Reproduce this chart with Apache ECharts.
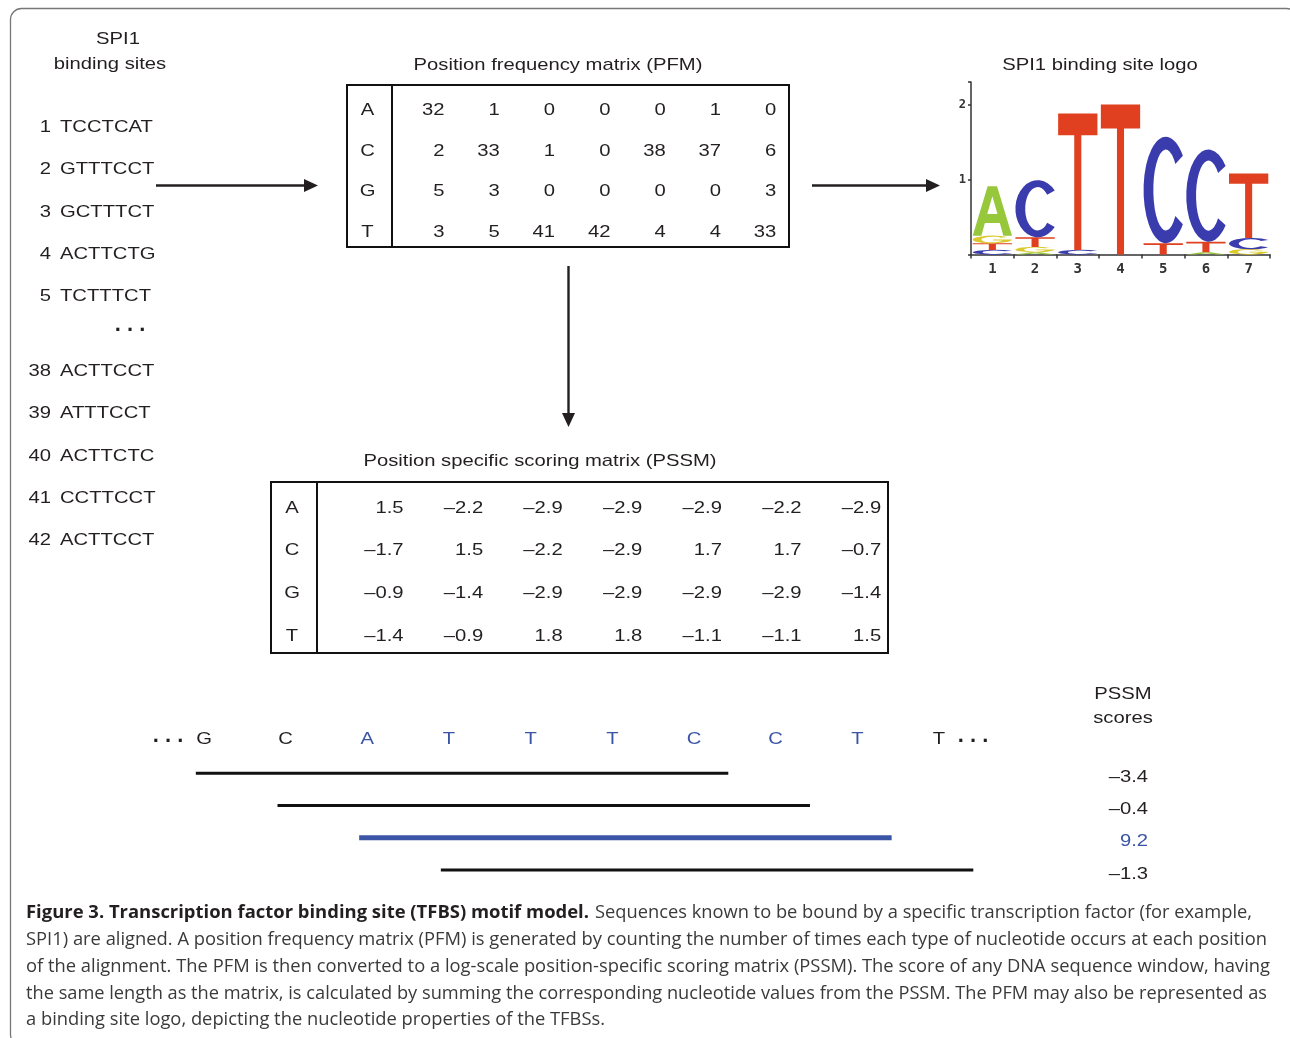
<!DOCTYPE html>
<html><head><meta charset="utf-8">
<script src="https://cdn.jsdelivr.net/npm/echarts@6/dist/echarts.min.js"></script>
<style>html,body{margin:0;padding:0;background:#fff}#main{width:1290px;height:1038px}</style>
</head><body><div id="main"></div>
<script>
// ---------------- data ----------------
const bases = ['A', 'C', 'G', 'T'];
const positions = ['1', '2', '3', '4', '5', '6', '7'];

const pfmA = [32, 1, 0, 0, 0, 1, 0];
const pfmC = [2, 33, 1, 0, 38, 37, 6];
const pfmG = [5, 3, 0, 0, 0, 0, 3];
const pfmT = [3, 5, 41, 42, 4, 4, 33];

const pssmA = [1.5, -2.2, -2.9, -2.9, -2.9, -2.2, -2.9];
const pssmC = [-1.7, 1.5, -2.2, -2.9, 1.7, 1.7, -0.7];
const pssmG = [-0.9, -1.4, -2.9, -2.9, -2.9, -2.9, -1.4];
const pssmT = [-1.4, -0.9, 1.8, 1.8, -1.1, -1.1, 1.5];

// sequence logo letter heights (bits)
const logoA = [0.66, 0.03, 0, 0, 0, 0.03, 0];
const logoC = [0.06, 0.76, 0.06, 0, 1.42, 1.23, 0.15];
const logoG = [0.10, 0.07, 0, 0, 0, 0, 0.07];
const logoT = [0.09, 0.13, 1.82, 2.0, 0.15, 0.14, 0.86];
const logoTicks = [0, 1, 2];

const siteIds = [1, 2, 3, 4, 5, 38, 39, 40, 41, 42];
const siteSeqs = ['TCCTCAT', 'GTTTCCT', 'GCTTTCT', 'ACTTCTG', 'TCTTTCT',
                  'ACTTCCT', 'ATTTCCT', 'ACTTCTC', 'CCTTCCT', 'ACTTCCT'];

const sequence = ['G', 'C', 'A', 'T', 'T', 'T', 'C', 'C', 'T', 'T'];
const windowStarts = [0, 1, 2, 3];
const windowScores = [-3.4, -0.4, 9.2, -1.3];

const captionBold = 'Figure 3. Transcription factor binding site (TFBS) motif model.';
const captionLines = [
  'Sequences known to be bound by a specific transcription factor (for example,',
  'SPI1) are aligned. A position frequency matrix (PFM) is generated by counting the number of times each type of nucleotide occurs at each position',
  'of the alignment. The PFM is then converted to a log-scale position-specific scoring matrix (PSSM). The score of any DNA sequence window, having',
  'the same length as the matrix, is calculated by summing the corresponding nucleotide values from the PSSM. The PFM may also be represented as',
  'a binding site logo, depicting the nucleotide properties of the TFBSs.'
];

// ---------------- styles ----------------
const INK = '#231f20';
const BLUE = '#3b55a6';
const FONT = '17px "Liberation Sans", Arial, sans-serif';
const TS = 1.19; // horizontal stretch of the figure's Helvetica text
const DY = 1.5;  // small downward nudge of the figure text
const CAP_FONT = '18px "Open Sans"';
const CAP_BFONT = 'bold 18px "Open Sans"';
const LETTER_COLOR = { A: '#97c83c', C: '#3a3cae', G: '#d9c92c', T: '#e0401f' };
const LETTER_PATH = {
  A: 'M0 100 L38 0 L62 0 L100 100 L78 100 L69 74 L31 74 L22 100 Z M37 56 L63 56 L50 20 Z',
  C: 'M88.3 17.9 A50 50 0 1 0 88.3 82.1 L71.4 74.4 A28 38 0 1 1 71.4 25.6 Z',
  G: 'M88.3 17.9 A50 50 0 1 0 100 50 L52 50 L52 64 L76 64 A28 38 0 1 1 71.4 25.6 Z',
  T: 'M0 0 L100 0 L100 16 L59 16 L59 100 L41 100 L41 16 L0 16 Z'
};

const pfmRows = [pfmA, pfmC, pfmG, pfmT];
const pssmRows = [pssmA, pssmC, pssmG, pssmT];
const logoRows = [logoA, logoC, logoG, logoT];

function fmtNum(v) {
  return v < 0 ? '\u2013' + Math.abs(v).toFixed(1) : v.toFixed(1);
}

function txt(text, x, y, o) {
  o = o || {};
  return {
    type: 'text', x: x, y: y + (o.noNudge ? 0 : DY), scaleX: o.scaleX == null ? TS : o.scaleX, silent: true, z: 10,
    style: {
      text: text, x: 0, y: 0, fill: o.fill || INK, font: o.font || FONT,
      textAlign: o.align || 'center', textVerticalAlign: 'middle',
      align: o.align || 'center', verticalAlign: 'middle'
    }
  };
}

function cellTextSeries(gridIdx, rows, fmt, dx, dy, align) {
  const data = [];
  const labels = [];
  rows.forEach((r, ri) => r.forEach((v, ci) => { data.push([ci + 1, ri]); labels.push(fmt(v)); }));
  return {
    type: 'custom', xAxisIndex: gridIdx, yAxisIndex: gridIdx, silent: true, animation: false,
    data: data,
    renderItem: function (params, api) {
      const p = api.coord([api.value(0), api.value(1)]);
      return {
        type: 'text', x: p[0] + dx, y: p[1] + dy, scaleX: TS,
        style: {
          text: labels[params.dataIndex], x: 0, y: 0, fill: INK, font: FONT,
          textAlign: align, textVerticalAlign: 'middle', align: align, verticalAlign: 'middle'
        }
      };
    }
  };
}

function letterSeries(gridIdx, dx, dy) {
  return {
    type: 'custom', xAxisIndex: gridIdx, yAxisIndex: gridIdx, silent: true, animation: false,
    data: bases.map((b, i) => [0, i]),
    renderItem: function (params, api) {
      const p = api.coord([0, api.value(1)]);
      return {
        type: 'text', x: p[0] + dx, y: p[1] + dy, scaleX: TS,
        style: {
          text: bases[params.dataIndex], x: 0, y: 0, fill: INK, font: FONT,
          textAlign: 'center', textVerticalAlign: 'middle', align: 'center', verticalAlign: 'middle'
        }
      };
    }
  };
}

const tableGrid = { show: true, borderColor: '#111', borderWidth: 2, backgroundColor: 'transparent' };
const hiddenCat = (gi, data, inv) => ({ gridIndex: gi, type: 'category', data: data, show: false, boundaryGap: true, inverse: !!inv });

const bestIdx = windowScores.indexOf(Math.max.apply(null, windowScores));
const bestStart = windowStarts[bestIdx];
const motifLen = positions.length;

// ---------------- graphic decorations ----------------
const graphics = [];
graphics.push({
  type: 'rect', silent: true, z: 1,
  shape: { x: 10.5, y: 8.5, width: 1287, height: 1037, r: 11 },
  style: { fill: 'none', stroke: '#777', lineWidth: 1.3 }
});
graphics.push(txt('SPI1', 118, 38));
graphics.push(txt('binding sites', 110, 63));
graphics.push(txt('Position frequency matrix (PFM)', 558, 64));
graphics.push(txt('Position specific scoring matrix (PSSM)', 540, 460));
graphics.push(txt('SPI1 binding site logo', 1100, 64));
graphics.push(txt('PSSM', 1123, 693));
graphics.push(txt('scores', 1123, 717));

siteIds.forEach((id, i) => {
  const y = i < 5 ? 126 + 42.3 * i : 370 + 42.3 * (i - 5);
  graphics.push(txt(String(id), 51, y, { align: 'right' }));
  graphics.push(txt(siteSeqs[i], 60, y, { align: 'left' }));
});
graphics.push(txt('. . .', 130, 325, { font: 'bold 22px "Liberation Sans"', scaleX: 1, noNudge: true }));
graphics.push(txt('. . .', 168, 736, { font: 'bold 22px "Liberation Sans"', scaleX: 1, noNudge: true }));
graphics.push(txt('. . .', 973, 736, { font: 'bold 22px "Liberation Sans"', scaleX: 1, noNudge: true }));

function arrowH(x1, x2, y) {
  graphics.push({ type: 'line', silent: true, shape: { x1: x1, y1: y, x2: x2 - 10, y2: y }, style: { stroke: INK, lineWidth: 2.4 } });
  graphics.push({ type: 'polygon', silent: true, shape: { points: [[x2, y], [x2 - 14, y - 6.5], [x2 - 14, y + 6.5]] }, style: { fill: INK } });
}
function arrowV(x, y1, y2) {
  graphics.push({ type: 'line', silent: true, shape: { x1: x, y1: y1, x2: x, y2: y2 - 10 }, style: { stroke: INK, lineWidth: 2.4 } });
  graphics.push({ type: 'polygon', silent: true, shape: { points: [[x, y2], [x - 6.5, y2 - 14], [x + 6.5, y2 - 14]] }, style: { fill: INK } });
}
arrowH(156, 318, 185.5);
arrowH(812, 940, 185.5);
arrowV(568.5, 266, 427);

// caption, each line fitted to its width in the figure
const mctx = document.createElement('canvas').getContext('2d');
function measure(s, f) { mctx.font = f; return mctx.measureText(s).width; }
const capY = [913, 940, 967, 994, 1020];
const capRight = [1252, 1267, 1270, 1267, 605];
{
  const bw = measure(captionBold, CAP_BFONT);
  graphics.push(txt(captionBold, 26, capY[0], { align: 'left', font: CAP_BFONT, scaleX: (589 - 26) / bw, fill: '#231f20', noNudge: true }));
  const rw = measure(captionLines[0], CAP_FONT);
  graphics.push(txt(captionLines[0], 595, capY[0], { align: 'left', font: CAP_FONT, scaleX: (capRight[0] - 595) / rw, fill: '#3a3a3a', noNudge: true }));
  for (let i = 1; i < captionLines.length; i++) {
    const w = measure(captionLines[i], CAP_FONT);
    graphics.push(txt(captionLines[i], 26, capY[i], { align: 'left', font: CAP_FONT, scaleX: (capRight[i] - 26) / w, fill: '#3a3a3a', noNudge: true }));
  }
}

// ---------------- option ----------------
const monoLabel = { fontFamily: '"DejaVu Sans Mono", monospace', fontWeight: 'bold', color: '#333' };

const option = {
  backgroundColor: '#fff',
  animation: false,
  grid: [
    Object.assign({ left: 347, top: 85, width: 45, height: 162 }, tableGrid),
    Object.assign({ left: 392, top: 85, width: 397, height: 162 }, tableGrid),
    Object.assign({ left: 271, top: 482, width: 46, height: 171 }, tableGrid),
    Object.assign({ left: 317, top: 482, width: 571, height: 171 }, tableGrid),
    { left: 971, top: 82, width: 299, height: 172.5, show: false },
    { left: 204, top: 741, width: 735, height: 129, show: false }
  ],
  xAxis: [
    hiddenCat(0, ['']),
    { gridIndex: 1, type: 'value', min: 0.05, max: 7.23, show: false },
    hiddenCat(2, ['']),
    { gridIndex: 3, type: 'value', min: -0.087, max: 7.086, show: false },
    {
      gridIndex: 4, type: 'category', data: positions, boundaryGap: true,
      axisLine: { show: true, lineStyle: { color: '#333', width: 1.5 } },
      axisTick: { show: true, length: 4, lineStyle: { color: '#333', width: 1.5 } },
      axisLabel: Object.assign({ fontSize: 14, margin: 8 }, monoLabel),
      splitLine: { show: false }
    },
    { gridIndex: 5, type: 'value', min: 0, max: sequence.length - 1, show: false }
  ],
  yAxis: [
    hiddenCat(0, bases, true), hiddenCat(1, bases, true), hiddenCat(2, bases, true), hiddenCat(3, bases, true),
    {
      gridIndex: 4, type: 'value', min: 0, max: 2.3, interval: 1,
      axisLine: { show: true, lineStyle: { color: '#333', width: 1.5 } },
      axisTick: { show: true, length: 3, lineStyle: { color: '#333', width: 1.5 } },
      axisLabel: Object.assign({ fontSize: 12, margin: 5, formatter: v => (logoTicks.indexOf(v) > 0 ? String(v) : '') }, monoLabel),
      splitLine: { show: false }
    },
    { gridIndex: 5, type: 'value', min: 0, max: windowStarts.length, inverse: true, show: false }
  ],
  series: [
    letterSeries(0, -2, 5.5),
    cellTextSeries(1, pfmRows, v => String(v), 0, 5.5, 'right'),
    letterSeries(2, -2, 4.5),
    cellTextSeries(3, pssmRows, fmtNum, 0, 4.5, 'right'),
    {
      type: 'custom', xAxisIndex: 4, yAxisIndex: 4, silent: true, animation: false,
      data: positions.map((p, i) => [i, 0]),
      renderItem: function (params, api) {
        const i = params.dataIndex;
        const items = bases.map((b, k) => ({ b: b, h: logoRows[k][i] }))
          .filter(o => o.h > 0).sort((a, b) => a.h - b.h);
        const bw = api.size([1, 0])[0];
        const cx = api.coord([i, 0])[0];
        let cum = 0;
        const children = [];
        items.forEach(o => {
          const y0 = api.coord([i, cum])[1];
          const y1 = api.coord([i, cum + o.h])[1];
          children.push({
            type: 'path',
            shape: { pathData: LETTER_PATH[o.b], x: cx - bw * 0.46, y: y1, width: bw * 0.92, height: Math.max(0.5, y0 - y1), layout: 'cover' },
            style: { fill: LETTER_COLOR[o.b] }
          });
          cum += o.h;
        });
        return { type: 'group', children: children };
      }
    },
    {
      type: 'custom', xAxisIndex: 5, yAxisIndex: 5, silent: true, animation: false,
      data: sequence.map((s, k) => [k, 0]),
      renderItem: function (params, api) {
        const k = params.dataIndex;
        const p = api.coord([k, 0]);
        const inBest = k >= bestStart && k < bestStart + motifLen;
        return {
          type: 'text', x: p[0], y: p[1] - 2, scaleX: TS,
          style: {
            text: sequence[k], x: 0, y: 0, fill: inBest ? BLUE : INK, font: FONT,
            textAlign: 'center', textVerticalAlign: 'middle', align: 'center', verticalAlign: 'middle'
          }
        };
      }
    },
    {
      type: 'custom', xAxisIndex: 5, yAxisIndex: 5, silent: true, animation: false,
      data: windowStarts.map((s, i) => [s, i + 1]),
      renderItem: function (params, api) {
        const i = params.dataIndex;
        const s = api.value(0), row = api.value(1);
        const a = api.coord([s - 0.1, row]);
        const b = api.coord([s + motifLen - 0.58, row]);
        const best = i === bestIdx;
        const cs = params.coordSys;
        return {
          type: 'group', children: [
            { type: 'line', shape: { x1: a[0], y1: a[1], x2: b[0], y2: b[1] }, style: { stroke: best ? BLUE : '#111', lineWidth: best ? 5 : 3 } },
            {
              type: 'text', x: cs.x + cs.width + 209, y: a[1] + 4, scaleX: TS,
              style: {
                text: fmtNum(windowScores[i]), x: 0, y: 0, fill: best ? BLUE : INK, font: FONT,
                textAlign: 'right', textVerticalAlign: 'middle', align: 'right', verticalAlign: 'middle'
              }
            }
          ]
        };
      }
    }
  ],
  graphic: { elements: graphics }
};

const chart = echarts.init(document.getElementById('main'));
chart.setOption(option);
</script></body></html>
